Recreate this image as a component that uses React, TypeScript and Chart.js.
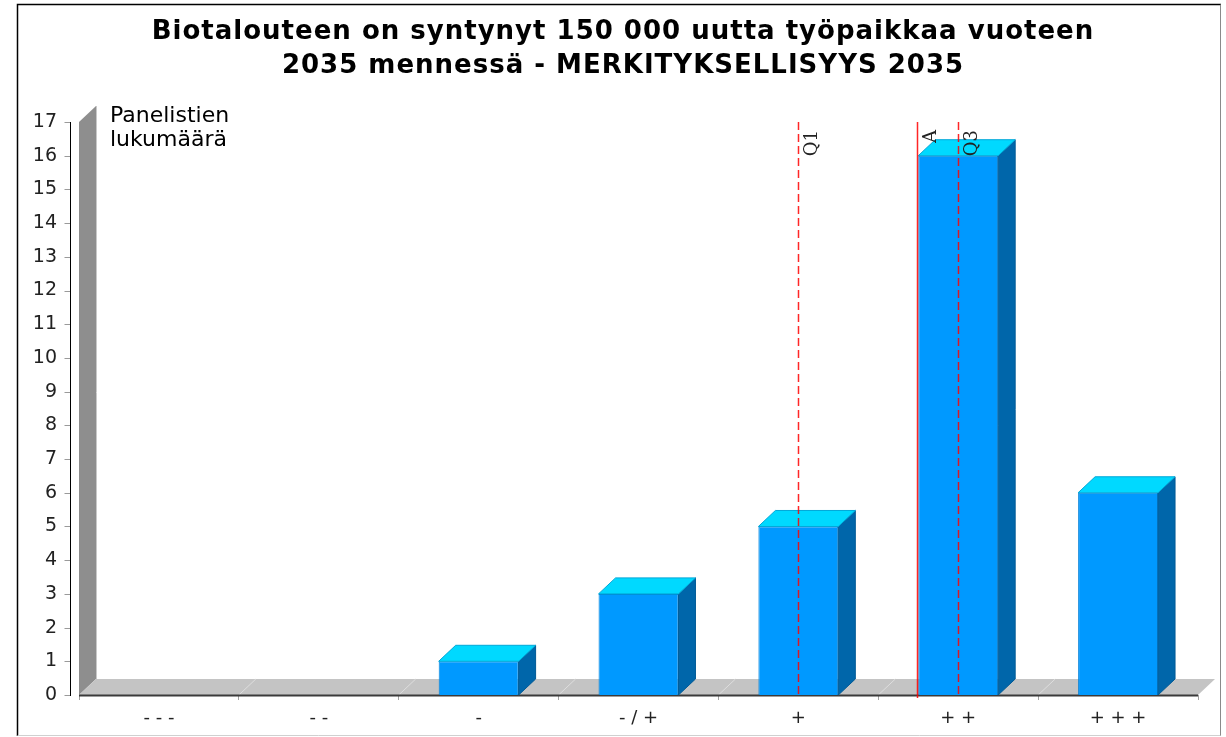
import React, { useEffect, useRef } from 'react';
import { Chart, registerables } from 'chart.js';

Chart.register(...registerables);

// ---- data ----
const categories = ['- - -', '- -', '-', '- / +', '+', '+ +', '+ + +'];
const counts = [0, 0, 1, 3, 5, 16, 6];
const titleLines = [
  'Biotalouteen on syntynyt 150 000 uutta työpaikkaa vuoteen',
  '2035 mennessä - MERKITYKSELLISYYS 2035',
];
const yAxisLabelLines = ['Panelistien', 'lukumäärä'];
const markerLabels = ['Q1', 'A', 'Q3'];
const markerPositions = [4, 4.742, 5]; // in category-index units
const markerDashed = [true, false, true];
const yMin = 0;
const yMax = 17;

// ---- style ----
const W = 1226;
const H = 737;
const DX = 17;
const DY = 16;
const FONT = 'DejaVu Sans';

const bar3d = {
  id: 'bar3d',
  beforeDraw(chart: any) {
    const ctx = chart.ctx;
    ctx.save();
    ctx.fillStyle = '#ffffff';
    ctx.fillRect(0, 0, W, H);
    // frame
    ctx.lineWidth = 1.5;
    ctx.strokeStyle = '#000000';
    ctx.beginPath();
    ctx.moveTo(17.5, 736);
    ctx.lineTo(17.5, 4.5);
    ctx.lineTo(1221, 4.5);
    ctx.stroke();
    ctx.lineWidth = 1;
    ctx.strokeStyle = '#8a8a8a';
    ctx.beginPath();
    ctx.moveTo(1220.5, 4.5);
    ctx.lineTo(1220.5, 736);
    ctx.stroke();
    ctx.strokeStyle = '#d0d0d0';
    ctx.beginPath();
    ctx.moveTo(17.5, 735.5);
    ctx.lineTo(1220.5, 735.5);
    ctx.stroke();
    // title
    ctx.fillStyle = '#000000';
    ctx.font = `bold 26px "${FONT}"`;
    try {
      (ctx as any).letterSpacing = '1px';
    } catch (e) {}
    ctx.textAlign = 'center';
    ctx.textBaseline = 'alphabetic';
    ctx.fillText(titleLines[0], 623, 39);
    ctx.fillText(titleLines[1], 623, 73);
    try {
      (ctx as any).letterSpacing = '0px';
    } catch (e) {}
    ctx.restore();
  },
  beforeDatasetsDraw(chart: any) {
    const ctx = chart.ctx;
    const { left, right, top, bottom } = chart.chartArea;
    const xs = chart.scales.x;
    const ys = chart.scales.y;
    ctx.save();
    // wall
    ctx.fillStyle = '#8e8e8e';
    ctx.beginPath();
    ctx.moveTo(left, bottom);
    ctx.lineTo(left, top);
    ctx.lineTo(left + DX, top - DY);
    ctx.lineTo(left + DX, bottom - DY);
    ctx.closePath();
    ctx.fill();
    ctx.strokeStyle = '#c8c8c8';
    ctx.lineWidth = 1;
    ctx.beginPath();
    ctx.moveTo(left + DX + 0.5, top - DY);
    ctx.lineTo(left + DX + 0.5, bottom - DY);
    ctx.stroke();
    // floor
    ctx.fillStyle = '#c4c4c4';
    ctx.beginPath();
    ctx.moveTo(left, bottom);
    ctx.lineTo(right, bottom);
    ctx.lineTo(right + DX, bottom - DY);
    ctx.lineTo(left + DX, bottom - DY);
    ctx.closePath();
    ctx.fill();
    // floor category lines
    ctx.strokeStyle = '#dedede';
    ctx.lineWidth = 1;
    for (let i = 1; i < categories.length; i++) {
      const xb = (xs.getPixelForValue(i - 1) + xs.getPixelForValue(i)) / 2;
      ctx.beginPath();
      ctx.moveTo(xb, bottom);
      ctx.lineTo(xb + DX, bottom - DY);
      ctx.stroke();
    }
    // floor front edge
    ctx.strokeStyle = '#3a3a3a';
    ctx.lineWidth = 2;
    ctx.beginPath();
    ctx.moveTo(left, bottom + 0.5);
    ctx.lineTo(right, bottom + 0.5);
    ctx.stroke();
    // y axis line + ticks
    const ax = left - 8.5;
    ctx.strokeStyle = '#000000';
    ctx.lineWidth = 1;
    ctx.beginPath();
    ctx.moveTo(ax, ys.getPixelForValue(yMax));
    ctx.lineTo(ax, ys.getPixelForValue(yMin) + 1);
    ctx.stroke();
    ctx.strokeStyle = '#9a9a9a';
    for (let v = yMin; v <= yMax; v++) {
      const py = Math.round(ys.getPixelForValue(v)) + 0.5;
      ctx.beginPath();
      ctx.moveTo(ax - 6, py);
      ctx.lineTo(ax - 0.5, py);
      ctx.stroke();
    }
    ctx.restore();
  },
  afterDatasetsDraw(chart: any) {
    const ctx = chart.ctx;
    const { top, bottom } = chart.chartArea;
    const xs = chart.scales.x;
    const meta = chart.getDatasetMeta(0);
    ctx.save();
    meta.data.forEach((bar: any, i: number) => {
      if (!(counts[i] > 0)) return;
      const p = bar.getProps(['x', 'y', 'base', 'width'], true);
      const x1 = p.x - p.width / 2;
      const x2 = p.x + p.width / 2;
      const yt = p.y;
      const yb = p.base;
      // side face
      ctx.fillStyle = '#0066aa';
      ctx.strokeStyle = '#005a96';
      ctx.lineWidth = 1;
      ctx.beginPath();
      ctx.moveTo(x2, yt);
      ctx.lineTo(x2 + DX, yt - DY);
      ctx.lineTo(x2 + DX, yb - DY);
      ctx.lineTo(x2, yb);
      ctx.closePath();
      ctx.fill();
      ctx.stroke();
      // top face
      ctx.fillStyle = '#00d9ff';
      ctx.strokeStyle = '#00a8d8';
      ctx.beginPath();
      ctx.moveTo(x1, yt);
      ctx.lineTo(x2, yt);
      ctx.lineTo(x2 + DX, yt - DY);
      ctx.lineTo(x1 + DX, yt - DY);
      ctx.closePath();
      ctx.fill();
      ctx.stroke();
    });

    // markers
    markerPositions.forEach((pos, i) => {
      const mx = Math.round(xs.getPixelForValue(pos)) + 0.5;
      ctx.strokeStyle = 'rgba(255,0,0,0.85)';
      ctx.lineWidth = 1.5;
      ctx.setLineDash(markerDashed[i] ? [8, 4] : []);
      ctx.beginPath();
      ctx.moveTo(mx, top);
      ctx.lineTo(mx, markerDashed[i] ? bottom : bottom + 3);
      ctx.stroke();
      ctx.setLineDash([]);
      ctx.save();
      ctx.translate(mx + 18, top + 8);
      ctx.rotate(-Math.PI / 2);
      ctx.fillStyle = '#222222';
      ctx.font = '18px "DejaVu Serif"';
      ctx.textAlign = 'right';
      ctx.textBaseline = 'alphabetic';
      ctx.fillText(markerLabels[i], 0, 0);
      ctx.restore();
    });

    // y axis label
    ctx.fillStyle = '#000000';
    ctx.font = `22px "${FONT}"`;
    ctx.textAlign = 'left';
    ctx.textBaseline = 'alphabetic';
    yAxisLabelLines.forEach((t, i) => ctx.fillText(t, 110, 122 + i * 24));
    ctx.restore();
  },
};

export default function App() {
  const ref = useRef<HTMLCanvasElement | null>(null);
  useEffect(() => {
    if (!ref.current) return;
    const chart = new Chart(ref.current, {
      type: 'bar',
      data: {
        labels: categories,
        datasets: [
          {
            data: counts,
            backgroundColor: '#0099ff',
            borderColor: '#0080d8',
            borderWidth: 1,
            barPercentage: 0.5,
            categoryPercentage: 1,
          },
        ],
      },
      options: {
        animation: false,
        responsive: false,
        devicePixelRatio: 1,
        layout: { padding: { left: 17, right: 28, top: 122, bottom: 0 } },
        plugins: {
          legend: { display: false },
          tooltip: { enabled: false },
          title: { display: false },
        },
        scales: {
          x: {
            offset: true,
            grid: {
              display: true,
              drawOnChartArea: false,
              drawTicks: true,
              tickLength: 5,
              color: '#a0a0a0',
              offset: true,
            },
            border: { display: false },
            ticks: {
              color: '#222222',
              font: { family: FONT, size: 18 },
              padding: 8,
              maxRotation: 0,
            },
            afterFit: (scale: any) => {
              scale.height = 42;
            },
          },
          y: {
            min: yMin,
            max: yMax,
            grid: { display: false, drawTicks: false },
            border: { display: false },
            ticks: {
              stepSize: 1,
              color: '#222222',
              font: { family: FONT, size: 19 },
              padding: 22,
            },
            afterFit: (scale: any) => {
              scale.width = 62;
            },
          },
        },
      },
      plugins: [bar3d],
    } as any);
    return () => chart.destroy();
  }, []);
  return (
    <div style={{ position: 'fixed', left: 0, top: 0, width: W, height: H, background: '#fff' }}>
      <canvas ref={ref} width={W} height={H} style={{ width: W, height: H, display: 'block' }} />
    </div>
  );
}
